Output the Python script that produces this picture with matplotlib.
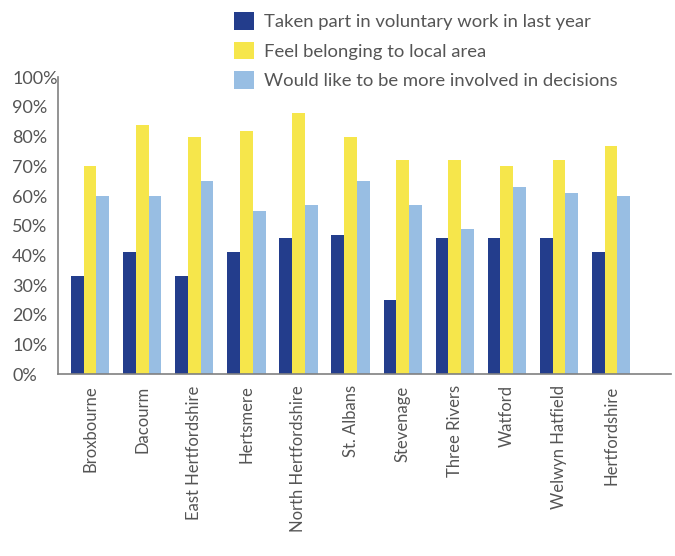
import numpy as np
import matplotlib.pyplot as plt

# ---------------------------------- data ----------------------------------
areas = ['Broxbourne', 'Dacourm', 'East Hertfordshire', 'Hertsmere',
         'North Hertfordshire', 'St. Albans', 'Stevenage', 'Three Rivers',
         'Watford', 'Welwyn Hatfield', 'Hertfordshire']
voluntary = [33, 41, 33, 41, 46, 47, 25, 46, 46, 46, 41]
belonging = [70, 84, 80, 82, 88, 80, 72, 72, 70, 72, 77]
involved = [60, 60, 65, 55, 57, 65, 57, 49, 63, 61, 60]
labels = ['Taken part in voluntary work in last year',
          'Feel belonging to local area',
          'Would like to be more involved in decisions']

colors = ['#233D8C', '#F6E64B', '#98BEE3']
txt = '#555555'
plt.rcParams['font.family'] = ['Lato', 'DejaVu Sans']

# -------------------------------- plotting --------------------------------
fig = plt.figure(figsize=(6.75, 5.56), dpi=100)
ax = fig.add_axes([0.086, 0.327, 0.908, 0.534])

x = np.arange(len(areas))
w = 0.245
for i, (vals, c, lab) in enumerate(zip([voluntary, belonging, involved], colors, labels)):
    ax.bar(x + (i - 1) * w, vals, width=w, color=c, label=lab)

ax.set_xlim(-0.615, 11.15)
ax.set_ylim(0, 100)
ax.set_yticks(range(0, 101, 10))
ax.set_yticklabels(['{}%'.format(v) for v in range(0, 101, 10)], ha='left')
ax.tick_params(axis='y', length=0, pad=33, labelsize=13, labelcolor=txt)
ax.set_xticks(x)
ax.set_xticklabels(areas, rotation=90)
ax.tick_params(axis='x', length=0, pad=8, labelsize=12, labelcolor=txt)

for s in ['top', 'right']:
    ax.spines[s].set_visible(False)
for s in ['left', 'bottom']:
    ax.spines[s].set_color('#808080')
    ax.spines[s].set_linewidth(1.2)

leg = fig.legend(loc='upper left', bbox_to_anchor=(0.3467, 0.978), frameon=False,
                 fontsize=13.3, handlelength=1.08, handleheight=1.08,
                 handletextpad=0.54, labelspacing=0.62, borderaxespad=0,
                 borderpad=0)
for t in leg.get_texts():
    t.set_color(txt)

fig.savefig('out.png', dpi=100)
